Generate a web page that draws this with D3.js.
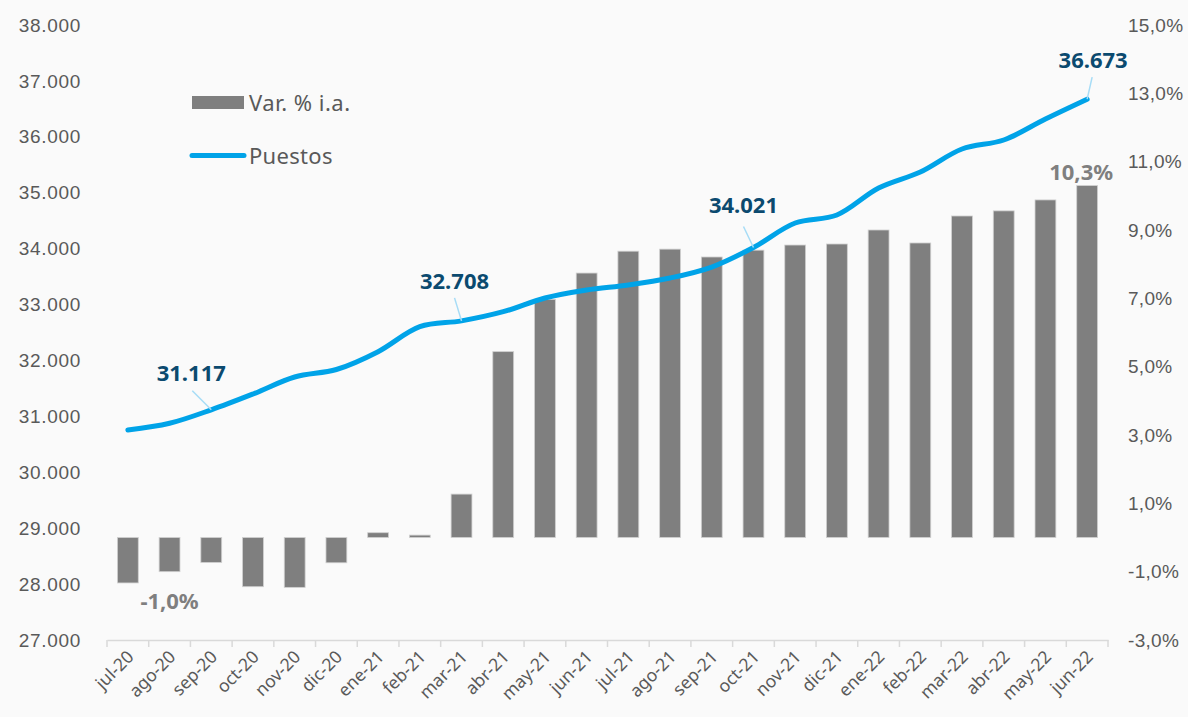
<!DOCTYPE html>
<html><head><meta charset="utf-8">
<script src="https://cdn.jsdelivr.net/npm/d3@7"></script>
<style>
html,body{margin:0;padding:0;background:#fafafa;}
svg{display:block;font-family:"Noto Sans","Open Sans",sans-serif;}
</style></head>
<body>
<svg id="chart" width="1188" height="717"></svg>
<script>
const categories = ["jul-20","ago-20","sep-20","oct-20","nov-20","dic-20","ene-21","feb-21","mar-21","abr-21","may-21","jun-21","jul-21","ago-21","sep-21","oct-21","nov-21","dic-21","ene-22","feb-22","mar-22","abr-22","may-22","jun-22"];
const puestos = [30756,30876,31117,31400,31704,31838,32157,32604,32708,32872,33117,33260,33350,33475,33671,34021,34458,34602,35084,35371,35782,35943,36319,36673];
const varPct = [-1.33,-1.0,-0.73,-1.44,-1.46,-0.74,0.14,0.07,1.27,5.44,6.97,7.74,8.38,8.44,8.21,8.41,8.56,8.59,9.0,8.62,9.41,9.56,9.88,10.3];
const leftTicks = [27000,28000,29000,30000,31000,32000,33000,34000,35000,36000,37000,38000];
const rightTicks = [-3,-1,1,3,5,7,9,11,13,15];
const lineLabels = [{cat:"sep-20", text:"31.117"},{cat:"mar-21", text:"32.708"},{cat:"oct-21", text:"34.021"},{cat:"jun-22", text:"36.673"}];
const barLabels = [{cat:"ago-20", text:"-1,0%"},{cat:"jun-22", text:"10,3%"}];

const svg = d3.select("#chart");
const m = {left:107, right:1108, top:25, bottom:640};
const x = d3.scaleBand().domain(categories).range([m.left, m.right]).paddingInner(0.5).paddingOuter(0.25);
const xb = d3.scaleBand().domain(categories).range([m.left, m.right]);
const yL = d3.scaleLinear().domain([27000,38000]).range([m.bottom, m.top]);
const yR = d3.scaleLinear().domain([-3,15]).range([m.bottom, m.top]);

const fmtL = d => d3.format(",")(d).replace(/,/g,".");
const fmtR = d => d.toFixed(1).replace(".",",") + "%";

// left axis
const axL = svg.append("g").attr("transform",`translate(${m.left},0)`)
  .call(d3.axisLeft(yL).tickValues(leftTicks).tickFormat(fmtL).tickSize(0).tickPadding(26));
axL.select(".domain").remove();
axL.selectAll("text").attr("fill","#595959").style("font-size","19px").style("letter-spacing","0.7px");

// right axis
const axR = svg.append("g").attr("transform",`translate(${m.right},0)`)
  .call(d3.axisRight(yR).tickValues(rightTicks).tickFormat(fmtR).tickSize(0).tickPadding(20));
axR.select(".domain").remove();
axR.selectAll("text").attr("fill","#595959").style("font-size","19px").style("letter-spacing","0.3px");

// bars
svg.append("g").selectAll("rect").data(categories).join("rect")
  .attr("x", (d)=>x(d))
  .attr("width", x.bandwidth())
  .attr("y", (d,i)=> yR(Math.max(0,varPct[i])))
  .attr("height", (d,i)=> Math.abs(yR(varPct[i]) - yR(0)))
  .attr("fill","#7f7f7f").attr("stroke","#d0d0d0").attr("stroke-width",0.8);

// x axis
const axX = svg.append("g").attr("transform",`translate(0,${m.bottom})`)
  .call(d3.axisBottom(xb).tickSize(0).tickFormat(""));
axX.select(".domain").attr("stroke","#d9d9d9").attr("stroke-width",1.5);
const bounds = categories.map(c=>xb(c)).concat([m.right]);
svg.append("g").selectAll("line").data(bounds).join("line")
  .attr("x1",d=>d).attr("x2",d=>d).attr("y1",m.bottom).attr("y2",m.bottom+7)
  .attr("stroke","#d9d9d9").attr("stroke-width",1.5);
svg.append("g").selectAll("text").data(categories).join("text")
  .attr("transform", d=>`translate(${xb(d)+xb.bandwidth()/2+7},${m.bottom+18}) rotate(-45)`)
  .attr("text-anchor","end").attr("fill","#595959").style("font-size","17.5px")
  .text(d=>d);

// line
const line = d3.line().x((d,i)=>xb(categories[i])+xb.bandwidth()/2).y(d=>yL(d)).curve(d3.curveCatmullRom.alpha(0.5));
svg.append("path").datum(puestos).attr("d",line).attr("fill","none")
  .attr("stroke","#00a3e8").attr("stroke-width",5).attr("stroke-linecap","round");

// line labels with leaders
const offsets = {"sep-20":[-20,-29,-19,-19],"mar-21":[-7,-32,-7,-23],"oct-21":[-10,-34,-10,-21],"jun-22":[6,-31,5,-22]};
lineLabels.forEach(l=>{
  const i = categories.indexOf(l.cat);
  const cx = xb(l.cat)+xb.bandwidth()/2, cy = yL(puestos[i]);
  const o = offsets[l.cat];
  svg.append("line").attr("x1",cx).attr("y1",cy).attr("x2",cx+o[2]).attr("y2",cy+o[3])
    .attr("stroke","#a6dcf6").attr("stroke-width",1.5);
  svg.append("text").attr("x",cx+o[0]).attr("y",cy+o[1]).attr("text-anchor","middle")
    .attr("fill","#0b4a6f").style("font-size","22px").style("font-weight","bold").text(l.text);
});

// bar labels
barLabels.forEach(l=>{
  const i = categories.indexOf(l.cat);
  const cx = x(l.cat)+x.bandwidth()/2;
  const v = varPct[i];
  const yy = v<0 ? yR(v)+37 : yR(v)-6;
  svg.append("text").attr("x",cx-(v<0?0:6)).attr("y",yy).attr("text-anchor","middle")
    .attr("fill","#7f7f7f").style("font-size","22px").style("font-weight","bold").text(l.text);
});

// legend
const lg = svg.append("g");
lg.append("rect").attr("x",192).attr("y",96).attr("width",52).attr("height",13).attr("fill","#7f7f7f");
lg.append("text").attr("x",249).attr("y",111).attr("fill","#595959").style("font-size","22px").style("letter-spacing","0.5px").text("Var. % i.a.");
lg.append("line").attr("x1",192).attr("x2",244).attr("y1",155.5).attr("y2",155.5)
  .attr("stroke","#00a3e8").attr("stroke-width",5).attr("stroke-linecap","round");
lg.append("text").attr("x",249).attr("y",164).attr("fill","#595959").style("font-size","22px").style("letter-spacing","0.3px").text("Puestos");
</script>
</body></html>
